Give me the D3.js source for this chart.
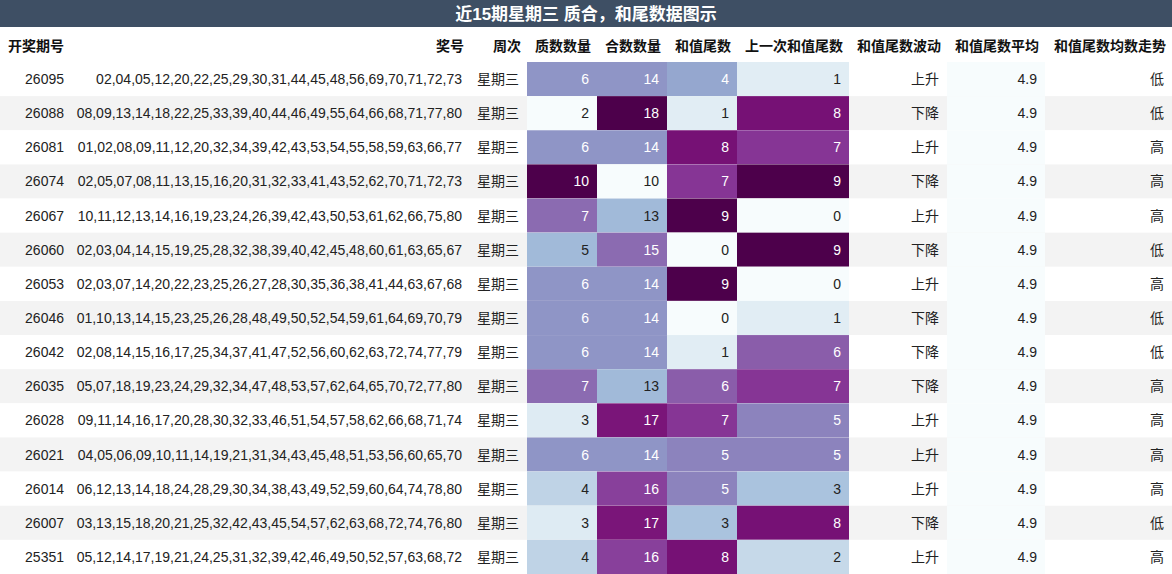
<!DOCTYPE html>
<html><head><meta charset="utf-8">
<script src="https://cdn.jsdelivr.net/npm/d3@7"></script>
<style>body{margin:0;background:#fff;font-family:"Liberation Sans","Noto Sans CJK SC",sans-serif;}</style>
</head><body><svg id="chart" width="1172" height="574"></svg>
<script>
var issues = ["26095","26088","26081","26074","26067","26060","26053","26046","26042","26035","26028","26021","26014","26007","25351"];
var numbers = [
"02,04,05,12,20,22,25,29,30,31,44,45,48,56,69,70,71,72,73",
"08,09,13,14,18,22,25,33,39,40,44,46,49,55,64,66,68,71,77,80",
"01,02,08,09,11,12,20,32,34,39,42,43,53,54,55,58,59,63,66,77",
"02,05,07,08,11,13,15,16,20,31,32,33,41,43,52,62,70,71,72,73",
"10,11,12,13,14,16,19,23,24,26,39,42,43,50,53,61,62,66,75,80",
"02,03,04,14,15,19,25,28,32,38,39,40,42,45,48,60,61,63,65,67",
"02,03,07,14,20,22,23,25,26,27,28,30,35,36,38,41,44,63,67,68",
"01,10,13,14,15,23,25,26,28,48,49,50,52,54,59,61,64,69,70,79",
"02,08,14,15,16,17,25,34,37,41,47,52,56,60,62,63,72,74,77,79",
"05,07,18,19,23,24,29,32,34,47,48,53,57,62,64,65,70,72,77,80",
"09,11,14,16,17,20,28,30,32,33,46,51,54,57,58,62,66,68,71,74",
"04,05,06,09,10,11,14,19,21,31,34,43,45,48,51,53,56,60,65,70",
"06,12,13,14,18,24,28,29,30,34,38,43,49,52,59,60,64,74,78,80",
"03,13,15,18,20,21,25,32,42,43,45,54,57,62,63,68,72,74,76,80",
"05,12,14,17,19,21,24,25,31,32,39,42,46,49,50,52,57,63,68,72"];
var primeCount = [6,2,6,10,7,5,6,6,6,7,3,6,4,3,4];
var compCount = [14,18,14,10,13,15,14,14,14,13,17,14,16,17,16];
var tail = [4,1,8,7,9,0,9,0,1,6,7,5,5,3,8];
var prevTail = [1,8,7,9,0,9,0,1,6,7,5,5,3,8,2];
var wave = ["上升","下降","上升","下降","上升","下降","上升","下降","下降","下降","上升","上升","上升","下降","上升"];
var avg = 4.9;
var trend = ["低","低","高","高","高","低","高","低","低","高","高","高","高","低","高"];

var cols = [
  {h:"开奖期号", x0:0, x1:72, align:"end", hAlign:"start"},
  {h:"奖号", x0:72, x1:470, align:"end"},
  {h:"周次", x0:470, x1:527, align:"end"},
  {h:"质数数量", x0:527, x1:597, align:"end", vals:primeCount},
  {h:"合数数量", x0:597, x1:667, align:"end", vals:compCount},
  {h:"和值尾数", x0:667, x1:737, align:"end", vals:tail},
  {h:"上一次和值尾数", x0:737, x1:849, align:"end", vals:prevTail},
  {h:"和值尾数波动", x0:849, x1:947, align:"end"},
  {h:"和值尾数平均", x0:947, x1:1045, align:"end", avgCol:true},
  {h:"和值尾数均数走势", x0:1045, x1:1172, align:"end"}
];
function cellText(c, i) {
  return [issues[i], numbers[i], "星期三", primeCount[i], compCount[i], tail[i], prevTail[i], wave[i], avg.toFixed(1), trend[i]][c];
}

var svg = d3.select("#chart");
var W = 1172, titleH = 27, headH = 35;
var y = d3.scaleBand().domain(d3.range(issues.length)).range([62, 574]);

svg.append("rect").attr("width", W).attr("height", titleH).attr("fill", "#3e4f64");
svg.append("text").attr("x", W/2).attr("y", 20).attr("text-anchor", "middle")
  .attr("fill", "#fff").attr("font-size", 17).attr("font-weight", "bold").text("近15期星期三 质合，和尾数据图示");

// header
cols.forEach(function(c) {
  var a = c.hAlign || c.align;
  svg.append("text").attr("x", a === "start" ? c.x0 + 8 : c.x1 - 6).attr("y", 51)
    .attr("text-anchor", a).attr("font-size", 14).attr("font-weight", "bold").attr("fill", "#111").text(c.h);
});

// rows
var rows = svg.selectAll("g.row").data(d3.range(issues.length)).enter().append("g")
  .attr("transform", function(i) { return "translate(0," + y(i) + ")"; });
rows.append("rect").attr("width", W).attr("height", y.bandwidth())
  .attr("fill", function(i) { return i % 2 ? "#f3f3f3" : "#fff"; });

cols.forEach(function(c, ci) {
  var sc = null;
  if (c.vals) sc = d3.scaleSequential(d3.interpolateBuPu).domain(d3.extent(c.vals));
  rows.each(function(i) {
    var g = d3.select(this), t = sc ? (c.vals[i] - sc.domain()[0]) / (sc.domain()[1] - sc.domain()[0]) : 0;
    if (sc) g.append("rect").attr("x", c.x0).attr("width", c.x1 - c.x0).attr("height", y.bandwidth()).attr("fill", sc(c.vals[i]));
    if (c.avgCol) g.append("rect").attr("x", c.x0).attr("width", c.x1 - c.x0).attr("height", y.bandwidth()).attr("fill", d3.interpolateBuPu(0));
    g.append("text").attr("x", c.x1 - 8).attr("y", y.bandwidth()/2 + 5)
      .attr("text-anchor", "end").attr("font-size", 14)
      .attr("fill", sc && t >= 0.42 ? "#fff" : "#222").text(cellText(ci, i));
  });
});
</script></body></html>
